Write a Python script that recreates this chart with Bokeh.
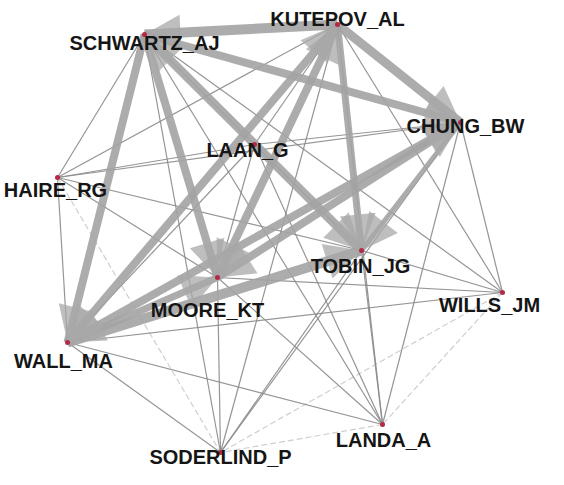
from bokeh.plotting import figure
from bokeh.models import Range1d, ColumnDataSource, Arrow, NormalHead
from bokeh.core.properties import value
from bokeh.embed import file_html
from bokeh.resources import INLINE

# ---- data ----
names = ["SCHWARTZ_AJ", "KUTEPOV_AL", "CHUNG_BW", "LAAN_G", "HAIRE_RG", "TOBIN_JG",
         "MOORE_KT", "WILLS_JM", "WALL_MA", "LANDA_A", "SODERLIND_P"]
node_x = [152, 345, 468, 262, 65, 369, 225, 510, 75, 390, 228]
node_y = [42, 32, 130, 152, 185, 258, 285, 300, 350, 432, 460]
label_dx = [0, 0, 5, -7, -2, -1, -10, -13, -4, 1, 0]
label_dy = [8, -6, 3, 5, 12, 15, 32, 12, 18, 15, 4]

# strong (directed) co-authorship links: source, target, weight
strong_src = ["KUTEPOV_AL", "SCHWARTZ_AJ", "KUTEPOV_AL", "SCHWARTZ_AJ", "SCHWARTZ_AJ",
              "SCHWARTZ_AJ", "KUTEPOV_AL", "KUTEPOV_AL", "KUTEPOV_AL", "CHUNG_BW",
              "CHUNG_BW", "WALL_MA", "CHUNG_BW", "WALL_MA"]
strong_dst = ["SCHWARTZ_AJ", "CHUNG_BW", "CHUNG_BW", "WALL_MA", "MOORE_KT",
              "TOBIN_JG", "WALL_MA", "MOORE_KT", "TOBIN_JG", "WALL_MA",
              "MOORE_KT", "TOBIN_JG", "TOBIN_JG", "MOORE_KT"]
strong_w = [10, 8, 9, 8, 8, 9, 8, 8, 7, 8, 8, 10, 5, 7]

# reverse arrowheads on strong links (bidirectional)
back_src = ["WALL_MA", "MOORE_KT", "WALL_MA", "MOORE_KT", "TOBIN_JG"]
back_dst = ["KUTEPOV_AL", "KUTEPOV_AL", "CHUNG_BW", "CHUNG_BW", "SCHWARTZ_AJ"]

# weak links
weak_a = ["SCHWARTZ_AJ", "SCHWARTZ_AJ", "SCHWARTZ_AJ", "SCHWARTZ_AJ", "KUTEPOV_AL",
          "KUTEPOV_AL", "KUTEPOV_AL", "KUTEPOV_AL", "KUTEPOV_AL", "CHUNG_BW",
          "CHUNG_BW", "CHUNG_BW", "CHUNG_BW", "CHUNG_BW", "LAAN_G",
          "LAAN_G", "LAAN_G", "LAAN_G", "LAAN_G", "HAIRE_RG",
          "HAIRE_RG", "HAIRE_RG", "TOBIN_JG", "TOBIN_JG", "TOBIN_JG",
          "MOORE_KT", "MOORE_KT", "MOORE_KT", "WILLS_JM", "WALL_MA",
          "WALL_MA", "SCHWARTZ_AJ"]
weak_b = ["HAIRE_RG", "LAAN_G", "LANDA_A", "WILLS_JM", "HAIRE_RG",
          "LAAN_G", "WILLS_JM", "LANDA_A", "SODERLIND_P", "LAAN_G",
          "HAIRE_RG", "WILLS_JM", "LANDA_A", "SODERLIND_P", "HAIRE_RG",
          "TOBIN_JG", "MOORE_KT", "WALL_MA", "LANDA_A", "WALL_MA",
          "TOBIN_JG", "MOORE_KT", "WILLS_JM", "LANDA_A", "SODERLIND_P",
          "WILLS_JM", "LANDA_A", "SODERLIND_P", "WALL_MA", "LANDA_A",
          "SODERLIND_P", "SODERLIND_P"]

# faint links
faint_a = ["WILLS_JM", "WILLS_JM", "LANDA_A", "HAIRE_RG"]
faint_b = ["LANDA_A", "SODERLIND_P", "SODERLIND_P", "SODERLIND_P"]

pos = {n: (x, y) for n, x, y in zip(names, node_x, node_y)}

def seg(a, b):
    return dict(x0=[pos[s][0] for s in a], y0=[pos[s][1] for s in a],
                x1=[pos[t][0] for t in b], y1=[pos[t][1] for t in b])

p = figure(width=548, height=469, output_backend="svg", toolbar_location=None,
           x_range=Range1d(8, 556), y_range=Range1d(477, 8), min_border=0)
p.axis.visible = False
p.grid.visible = False
p.outline_line_color = None
p.background_fill_color = "white"

faint = ColumnDataSource(seg(faint_a, faint_b))
p.segment("x0", "y0", "x1", "y1", source=faint, line_color="#cfcfcf",
          line_width=1.2, line_dash="6 3")

weak = ColumnDataSource(seg(weak_a, weak_b))
p.segment("x0", "y0", "x1", "y1", source=weak, line_color="#8a8a8a",
          line_width=1.2, line_alpha=0.9)

sd = seg(strong_src, strong_dst)
sd["w"] = strong_w
strong = ColumnDataSource(sd)
p.segment("x0", "y0", "x1", "y1", source=strong, line_color="#a3a3a3",
          line_width="w", line_alpha=0.9)

heads = ColumnDataSource(seg(strong_src, strong_dst))
p.add_layout(Arrow(end=NormalHead(size=36, fill_color="#a8a8a8", fill_alpha=0.75,
                                  line_color=None),
                   x_start="x0", y_start="y0", x_end="x1", y_end="y1",
                   source=heads, line_alpha=0, level="glyph"))
bheads = ColumnDataSource(seg(back_src, back_dst))
p.add_layout(Arrow(end=NormalHead(size=36, fill_color="#a8a8a8", fill_alpha=0.75,
                                  line_color=None),
                   x_start="x0", y_start="y0", x_end="x1", y_end="y1",
                   source=bheads, line_alpha=0, level="glyph"))

nodes = ColumnDataSource(dict(x=node_x, y=node_y, name=names,
                              lx=[x + d for x, d in zip(node_x, label_dx)],
                              ly=[y + d for y, d in zip(node_y, label_dy)]))
p.scatter("x", "y", source=nodes, size=5, fill_color="#b22a45", line_color=None,
          level="overlay")
p.text("lx", "ly", text="name", source=nodes, text_align="center",
       text_baseline="middle", text_font=value("Liberation Sans"),
       text_font_style="bold", text_font_size="20px", text_color="#151515",
       level="overlay")

open("out.html", "w").write(file_html(p, INLINE))
